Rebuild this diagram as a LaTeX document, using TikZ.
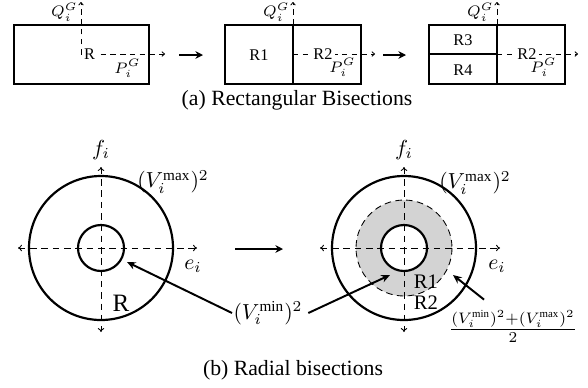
\documentclass[tikz,border=0pt]{standalone}
\usepackage{fontspec}
\setmainfont{Liberation Serif}
\usetikzlibrary{arrows.meta, calc}
\definecolor{bisgray}{HTML}{D3D3D3}
\tikzset{
  regbox/.style={draw=black, line width=0.6pt},
  regdiv/.style={draw=black, line width=0.6pt},
  ring/.style={draw=black, line width=1pt},
  midring/.style={draw=black, dashed, line width=0.4pt, dash pattern=on 3pt off 2pt, fill=bisgray},
  topaxis/.style={dashed, line width=0.4pt, dash pattern=on 2.5pt off 2pt, -{To[length=1.6pt, width=2.4pt]}},
  botaxis/.style={dashed, line width=0.4pt, dash pattern=on 3pt off 2.2pt, {To[length=1.8pt, width=3pt]}-{To[length=1.8pt, width=3pt]}},
  steparrow/.style={-{Stealth[length=3.5pt, width=3.5pt]}, line width=0.9pt},
  pointer/.style={-{Stealth[length=4pt, width=3.5pt]}, line width=0.9pt},
  toplabel/.style={font=\fontsize{7.5}{9}\selectfont, inner sep=0.5pt},
  regname/.style={toplabel, fill=white, inner sep=1pt},
  botlabel/.style={font=\fontsize{10}{12}\selectfont, inner sep=0.5pt},
  caption/.style={font=\fontsize{10}{12}\selectfont}
}

\begin{document}
\begin{tikzpicture}[x=0.46pt, y=-0.46pt]
  \useasboundingbox (0,0) rectangle (588,387);

  % (a) rectangular bisections
  \coordinate (o1) at (81,54);
  \coordinate (o2) at (293,54);
  \coordinate (o3) at (497,54);
  \coordinate (q1) at (81,2);
  \coordinate (q2) at (293,2);
  \coordinate (q3) at (497,2);
  \coordinate (p1) at (165,54);
  \coordinate (p2) at (375,54);
  \coordinate (p3) at (578,54);

  \draw[topaxis] (o1) -- (q1);
  \draw[topaxis] (o1) -- (p1);
  \draw[topaxis] (o2) -- (q2);
  \draw[topaxis] (o2) -- (p2);
  \draw[topaxis] (o3) -- (q3);
  \draw[topaxis] (o3) -- (p3);

  \draw[regbox] (14,25) rectangle (149,84);
  \draw[regbox] (225,25) rectangle (361,84);
  \draw[regdiv] (293,25) -- (293,84);
  \draw[regbox] (429,25) rectangle (565,84);
  \draw[regdiv] (497,25) -- (497,84);
  \draw[regdiv] (429,54) -- (497,54);

  \node[regname, anchor=west] (r) at (81.5,54) {R};
  \node[toplabel] (r1) at (259,55) {R1};
  \node[regname] (r2a) at (323,54) {R2};
  \node[toplabel] (r3) at (463,40) {R3};
  \node[toplabel] (r4) at (463,70) {R4};
  \node[regname] (r2b) at (527,54) {R2};

  \node[toplabel, anchor=east] (ql1) at (79,12) {$Q_i^G$};
  \node[toplabel, anchor=east] (ql2) at (291,12) {$Q_i^G$};
  \node[toplabel, anchor=east] (ql3) at (495,12) {$Q_i^G$};
  \node[toplabel, anchor=north east] (pl1) at (142,58) {$P_i^G$};
  \node[toplabel, anchor=north east] (pl2) at (357,57) {$P_i^G$};
  \node[toplabel, anchor=north east] (pl3) at (558,57) {$P_i^G$};

  \coordinate (s1) at (179,55);
  \coordinate (t1) at (203,55);
  \coordinate (s2) at (383,55);
  \coordinate (t2) at (406,55);
  \draw[steparrow] (s1) -- (t1);
  \draw[steparrow] (s2) -- (t2);

  \node[caption] (capa) at (297,100) {(a) Rectangular Bisections};

  % (b) radial bisections
  \coordinate (c1) at (101,248);
  \coordinate (c2) at (404,248);

  \draw[ring] (c1) circle[radius=72];
  \draw[ring] (c1) circle[radius=23];
  \fill[white] (c2) circle[radius=72];
  \draw[midring] (c2) circle[radius=48];
  \fill[white] (c2) circle[radius=23];
  \draw[ring] (c2) circle[radius=72];
  \draw[ring] (c2) circle[radius=23];

  \coordinate (h1a) at (18,248);
  \coordinate (h1b) at (197,248);
  \coordinate (v1a) at (101,167);
  \coordinate (v1b) at (101,332);
  \coordinate (h2a) at (320,248);
  \coordinate (h2b) at (500,248);
  \coordinate (v2a) at (404,167);
  \coordinate (v2b) at (404,332);
  \draw[botaxis] (h1a) -- (h1b);
  \draw[botaxis] (v1a) -- (v1b);
  \draw[botaxis] (h2a) -- (h2b);
  \draw[botaxis] (v2a) -- (v2b);

  \node[botlabel] (f1) at (101,150) {$f_i$};
  \node[botlabel] (e1) at (193,266) {$e_i$};
  \node[botlabel] (vmax1) at (173,182) {$(V_i^{\max})^2$};
  \node[font=\fontsize{11.5}{13}\selectfont] (rr) at (121,303) {R};

  \node[botlabel] (f2) at (404,150) {$f_i$};
  \node[botlabel] (e2) at (497,266) {$e_i$};
  \node[botlabel] (vmax2) at (475,183) {$(V_i^{\max})^2$};
  \node[font=\fontsize{9.5}{11}\selectfont, inner sep=0.5pt] (rr1) at (426,282) {R1};
  \node[font=\fontsize{9.5}{11}\selectfont, inner sep=0.5pt] (rr2) at (426,303) {R2};

  \node[botlabel] (vmin) at (268,313) {$(V_i^{\min})^2$};
  \node[botlabel] (vmid) at (513,326) {$\frac{(V_i^{\min})^2+(V_i^{\max})^2}{2}$};
  \coordinate (m1) at (127,262);
  \coordinate (m2) at (390,275);
  \coordinate (m3) at (453,275);
  \draw[pointer] (vmin.west) -- (m1);
  \draw[pointer] ([xshift=2pt]vmin.east) -- (m2);
  \draw[pointer] ($(vmid.north west)!0.28!(vmid.north east)+(0,4pt)$) -- (m3);

  \coordinate (s3) at (235,249);
  \coordinate (t3) at (283,249);
  \draw[steparrow] (s3) -- (t3);

  \node[caption] (capb) at (293,370) {(b) Radial bisections};
\end{tikzpicture}
\end{document}
